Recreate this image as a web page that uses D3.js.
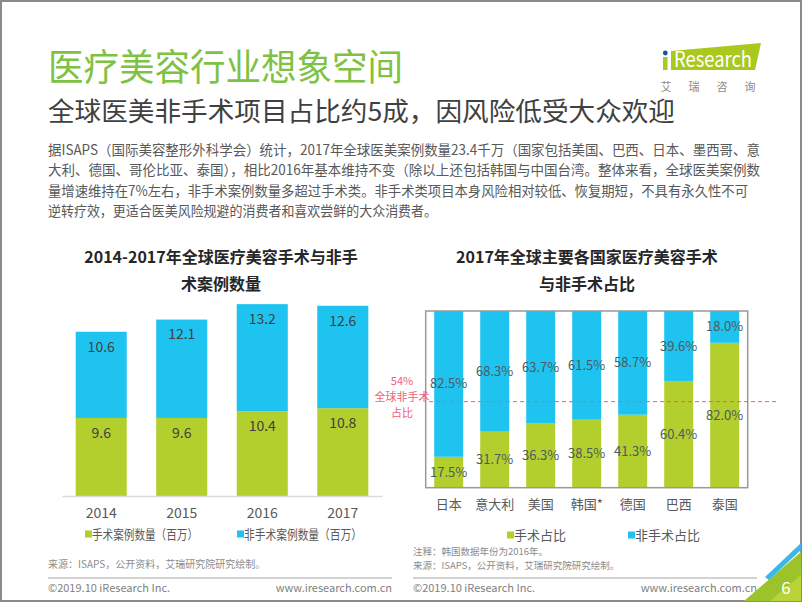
<!DOCTYPE html>
<html><head><meta charset="utf-8">
<script src="https://cdn.jsdelivr.net/npm/d3@7"></script>
<style>
body{margin:0;background:#fff}
svg{display:block}
text{font-family:"Noto Sans CJK SC","Noto Sans",sans-serif}
</style>
</head><body>
<svg id="c" width="802" height="602"></svg>
<script>
// ---- data ----
const years = ["2014", "2015", "2016", "2017"];
const surgicalCases = [9.6, 9.6, 10.4, 10.8];
const nonSurgicalCases = [10.6, 12.1, 13.2, 12.6];
const countries = ["日本", "意大利", "美国", "韩国*", "德国", "巴西", "泰国"];
const surgicalShare = [17.5, 31.7, 36.3, 38.5, 41.3, 60.4, 82.0];
const nonSurgicalShare = [82.5, 68.3, 63.7, 61.5, 58.7, 39.6, 18.0];
const refLabel = ["54%", "全球非手术", "占比"];
const refLinePos = 48.7; // where the dashed reference line sits on the % axis as drawn
const leftLegend = ["手术案例数量（百万）", "非手术案例数量（百万）"];
const rightLegend = ["手术占比", "非手术占比"];
const bodyLines = [
  "据ISAPS（国际美容整形外科学会）统计，2017年全球医美案例数量23.4千万（国家包括美国、巴西、日本、墨西哥、意",
  "大利、德国、哥伦比亚、泰国），相比2016年基本维持不变（除以上还包括韩国与中国台湾。整体来看，全球医美案例数",
  "量增速维持在7%左右，非手术案例数量多超过手术类。非手术类项目本身风险相对较低、恢复期短，不具有永久性不可",
  "逆转疗效，更适合医美风险规避的消费者和喜欢尝鲜的大众消费者。"
];

const GREEN = "#b3cf2d", BLUE = "#1fc3f0";
const svg = d3.select("#c");

// outer frame
svg.append("rect").attr("x", 1).attr("y", 1).attr("width", 800).attr("height", 600)
  .attr("fill", "none").attr("stroke", "#8a8a8a").attr("stroke-width", 2);

// header
svg.append("text").attr("x", 48).attr("y", 81).attr("font-size", 37).attr("fill", "#7dc243")
  .attr("textLength", 355).attr("lengthAdjust", "spacingAndGlyphs")
  .text("医疗美容行业想象空间");
svg.append("text").attr("x", 48).attr("y", 121).attr("font-size", 26).attr("fill", "#404040")
  .attr("textLength", 627).attr("lengthAdjust", "spacingAndGlyphs")
  .text("全球医美非手术项目占比约5成，因风险低受大众欢迎");
const bodyLens = [712, 712, 700, 389];
bodyLines.forEach((t, i) => {
  svg.append("text").attr("x", 48).attr("y", 155 + i * 20.3).attr("font-size", 14).attr("fill", "#595959")
    .attr("textLength", bodyLens[i]).attr("lengthAdjust", "spacingAndGlyphs").text(t);
});

// logo
const logo = svg.append("g");
logo.append("polygon").attr("points", "671,51 761,43 755,70 671,70").attr("fill", "#a9c91e");
logo.append("rect").attr("x", 663).attr("y", 57).attr("width", 4.5).attr("height", 13).attr("fill", "#a9c91e");
logo.append("circle").attr("cx", 665.3).attr("cy", 53).attr("r", 2.4).attr("fill", "#1f4e9c");
logo.append("text").attr("x", 674).attr("y", 67).attr("font-size", 21).attr("fill", "#fff")
  .attr("textLength", 78).attr("lengthAdjust", "spacingAndGlyphs").text("Research");
["艾", "瑞", "咨", "询"].forEach((c, i) => {
  logo.append("text").attr("x", 666 + i * 28).attr("y", 91).attr("font-size", 11)
    .attr("text-anchor", "middle").attr("fill", "#8a8a8a").text(c);
});

// ---------- left chart ----------
const L = svg.append("g");
[["2014-2017年全球医疗美容手术与非手", 263], ["术案例数量", 290]].forEach(([t, y]) => {
  L.append("text").attr("x", 221).attr("y", y).attr("text-anchor", "middle")
    .attr("font-size", 16).attr("font-weight", "bold").attr("fill", "#262626").text(t);
});
const xL = d3.scaleBand().domain(years).range([62, 382]).paddingInner(0.366).paddingOuter(0.17);
const yL = d3.scaleLinear().domain([0, 25]).range([496, 292.75]);
const leftData = years.map((y, i) => ({ y, s: surgicalCases[i], n: nonSurgicalCases[i] }));
const gb = L.selectAll(".lb").data(leftData).enter().append("g");
gb.append("rect").attr("x", d => xL(d.y)).attr("width", xL.bandwidth())
  .attr("y", d => yL(d.s)).attr("height", d => yL(0) - yL(d.s)).attr("fill", GREEN);
gb.append("rect").attr("x", d => xL(d.y)).attr("width", xL.bandwidth())
  .attr("y", d => yL(d.s + d.n)).attr("height", d => yL(d.s) - yL(d.s + d.n)).attr("fill", BLUE);
gb.append("text").attr("x", d => xL(d.y) + xL.bandwidth() / 2).attr("y", d => yL(d.s) + 15)
  .attr("dy", "0.35em").attr("text-anchor", "middle").attr("font-size", 14).attr("fill", "#404040")
  .text(d => d.s.toFixed(1));
gb.append("text").attr("x", d => xL(d.y) + xL.bandwidth() / 2).attr("y", d => yL(d.s + d.n) + 15)
  .attr("dy", "0.35em").attr("text-anchor", "middle").attr("font-size", 14).attr("fill", "#404040")
  .text(d => d.n.toFixed(1));
const axL = L.append("g").attr("transform", "translate(0,496)")
  .call(d3.axisBottom(xL).tickSize(0).tickPadding(12));
axL.select(".domain").attr("stroke", "#d9d9d9").attr("stroke-width", 1.5);
axL.selectAll("text").attr("font-size", 14).attr("fill", "#595959")
  .attr("font-family", "\"Noto Sans CJK SC\",sans-serif");
[[85, GREEN, leftLegend[0], 106], [237, BLUE, leftLegend[1], 118]].forEach(([x, c, t, w]) => {
  L.append("rect").attr("x", x).attr("y", 530.5).attr("width", 7).attr("height", 7).attr("fill", c);
  L.append("text").attr("x", x + 7).attr("y", 534).attr("dy", "0.35em").attr("font-size", 13)
    .attr("fill", "#595959").attr("textLength", w).attr("lengthAdjust", "spacingAndGlyphs").text(t);
});
L.append("text").attr("x", 48).attr("y", 564).attr("dy", "0.35em").attr("font-size", 10)
  .attr("fill", "#8c8c8c").text("来源：ISAPS，公开资料，艾瑞研究院研究绘制。");

// ---------- right chart ----------
const R = svg.append("g");
[["2017年全球主要各国家医疗美容手术", 263], ["与非手术占比", 290]].forEach(([t, y]) => {
  R.append("text").attr("x", 587).attr("y", y).attr("text-anchor", "middle")
    .attr("font-size", 16).attr("font-weight", "bold").attr("fill", "#262626").text(t);
});
const xR = d3.scaleBand().domain(countries).range([425.7, 747.7]).paddingInner(0.37).paddingOuter(0.185);
const yR = d3.scaleLinear().domain([0, 100]).range([487.7, 311]);
const rightData = countries.map((c, i) => ({ c, s: surgicalShare[i], n: nonSurgicalShare[i] }));
const gr = R.selectAll(".rb").data(rightData).enter().append("g");
gr.append("rect").attr("x", d => xR(d.c)).attr("width", xR.bandwidth())
  .attr("y", d => yR(d.s)).attr("height", d => yR(0) - yR(d.s)).attr("fill", GREEN);
gr.append("rect").attr("x", d => xR(d.c)).attr("width", xR.bandwidth())
  .attr("y", d => yR(d.s + d.n)).attr("height", d => yR(d.s) - yR(d.s + d.n)).attr("fill", BLUE);
gr.append("text").attr("x", d => xR(d.c) + xR.bandwidth() / 2).attr("y", d => yR(d.s / 2))
  .attr("dy", "0.35em").attr("text-anchor", "middle").attr("font-size", 13).attr("fill", "#4f5a60")
  .text(d => d.s.toFixed(1) + "%");
gr.append("text").attr("x", d => xR(d.c) + xR.bandwidth() / 2).attr("y", d => yR(d.s + d.n / 2))
  .attr("dy", "0.35em").attr("text-anchor", "middle").attr("font-size", 13).attr("fill", "#4f5a60")
  .text(d => d.n.toFixed(1) + "%");
R.append("rect").attr("x", 425.7).attr("y", 311).attr("width", 322).attr("height", 176.7)
  .attr("fill", "none").attr("stroke", "#999").attr("stroke-width", 1.5);
const axR = R.append("g").attr("transform", "translate(0,487.7)")
  .call(d3.axisBottom(xR).tickSize(0).tickPadding(12));
axR.select(".domain").remove();
axR.selectAll("text").attr("font-size", 13).attr("fill", "#595959")
  .attr("font-family", "\"Noto Sans CJK SC\",sans-serif");
// reference line
R.append("line").attr("x1", 429).attr("x2", 776).attr("y1", yR(refLinePos)).attr("y2", yR(refLinePos))
  .attr("stroke", "#ef5f6f").attr("stroke-width", 1).attr("stroke-dasharray", "4,3");
refLabel.forEach((t, i) => {
  R.append("text").attr("x", 402).attr("y", 381 + i * 16).attr("dy", "0.35em").attr("text-anchor", "middle")
    .attr("font-size", 11).attr("fill", "#f0607a").text(t);
});
[[507, GREEN, rightLegend[0]], [628, BLUE, rightLegend[1]]].forEach(([x, c, t]) => {
  R.append("rect").attr("x", x).attr("y", 531.5).attr("width", 7).attr("height", 7).attr("fill", c);
  R.append("text").attr("x", x + 7).attr("y", 535).attr("dy", "0.35em").attr("font-size", 13)
    .attr("fill", "#595959").text(t);
});
R.append("text").attr("x", 413).attr("y", 552).attr("dy", "0.35em").attr("font-size", 9.5)
  .attr("fill", "#8c8c8c").text("注释：韩国数据年份为2016年。");
R.append("text").attr("x", 413).attr("y", 566).attr("dy", "0.35em").attr("font-size", 9.5)
  .attr("fill", "#8c8c8c").text("来源：ISAPS，公开资料，艾瑞研究院研究绘制。");

// footers
[[48, 392], [413, 757]].forEach(([a, b]) => {
  svg.append("line").attr("x1", a).attr("x2", b).attr("y1", 578).attr("y2", 578)
    .attr("stroke", "#a6a6a6").attr("stroke-width", 1);
  svg.append("text").attr("x", a).attr("y", 588).attr("dy", "0.35em").attr("font-size", 11)
    .attr("fill", "#7f7f7f").text("©2019.10 iResearch Inc.");
  svg.append("text").attr("x", b).attr("y", 588).attr("dy", "0.35em").attr("font-size", 11)
    .attr("text-anchor", "end").attr("fill", "#7f7f7f").text("www.iresearch.com.cn");
});

// corner decoration
svg.append("polygon").attr("points", "744,601 801,552 801,601").attr("fill", "#9cc42a");
svg.append("polygon").attr("points", "770,601 801,575 801,601").attr("fill", "#b8d43a");
svg.append("polygon").attr("points", "769,580 801,550 801,543 765,577").attr("fill", "#3bb8ea");
svg.append("text").attr("x", 786).attr("y", 588).attr("dy", "0.35em").attr("text-anchor", "middle")
  .attr("font-size", 17).attr("fill", "#fff").text("6");
</script>
</body></html>
